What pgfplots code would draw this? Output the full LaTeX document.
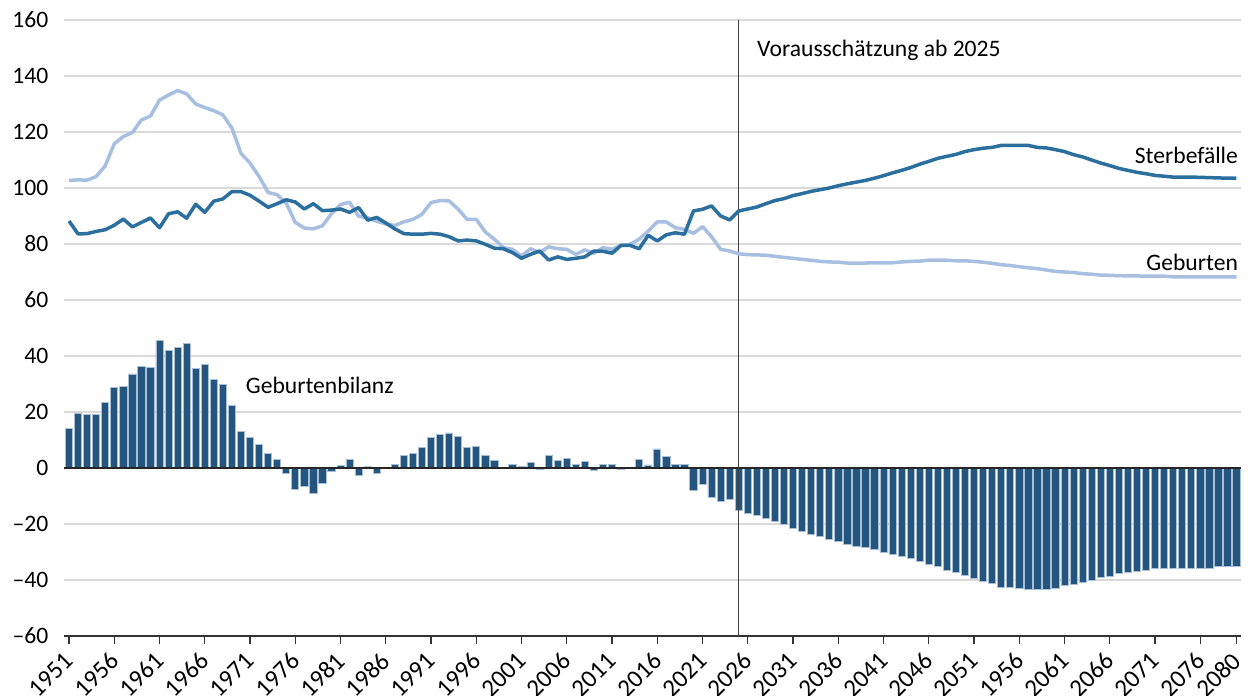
\documentclass[border=0pt]{standalone}
\usepackage{pgfplots}
\pgfplotsset{compat=1.18}
\usepackage{pgfplotstable}
\usepackage{fontspec}
\setmainfont{Carlito}

\definecolor{barfill}{HTML}{23557E}
\definecolor{baredge}{HTML}{A9BFD6}
\definecolor{deaths}{HTML}{2B6F9E}
\definecolor{births}{HTML}{A7BFE0}
\definecolor{gridc}{HTML}{D9D9D9}

% Geburten, Sterbefaelle, Geburtenbilanz (in 1000)
\pgfplotstableread{
year geb sterb bilanz
1951 102.7 88.2 14.2
1952 102.9 83.6 19.4
1953 102.8 83.7 19.2
1954 104.1 84.5 19.0
1955 107.9 85.1 23.3
1956 115.8 86.7 28.7
1957 118.4 88.9 29.2
1958 119.8 86.1 33.6
1959 124.3 87.7 36.2
1960 125.7 89.3 36.0
1961 131.4 85.8 45.6
1962 133.2 90.8 42.0
1963 134.8 91.5 43.0
1964 133.6 89.2 44.4
1965 130.0 94.2 35.4
1966 128.7 91.3 37.0
1967 127.6 95.3 31.7
1968 126.1 96.1 29.8
1969 121.4 98.7 22.4
1970 112.4 98.7 13.2
1971 108.9 97.4 10.8
1972 104.1 95.3 8.5
1973 98.4 93.1 5.1
1974 97.6 94.4 2.9
1975 94.6 95.8 -2.1
1976 87.7 95.0 -7.6
1977 85.7 92.5 -6.5
1978 85.4 94.4 -8.9
1979 86.5 91.9 -5.5
1980 90.8 92.1 -1.3
1981 94.1 92.5 0.8
1982 94.9 91.3 3.2
1983 89.9 93.0 -2.7
1984 89.4 88.5 0.5
1985 88.1 89.5 -1.9
1986 87.2 87.5 0.2
1987 86.6 85.4 1.2
1988 87.9 83.7 4.4
1989 88.8 83.5 5.1
1990 90.6 83.5 7.3
1991 94.8 83.8 10.8
1992 95.5 83.5 11.9
1993 95.4 82.6 12.5
1994 92.4 81.1 11.4
1995 88.8 81.4 7.3
1996 88.8 81.1 7.7
1997 84.3 79.9 4.4
1998 81.7 78.5 2.6
1999 78.7 78.3 0.1
2000 78.1 76.9 1.2
2001 75.7 74.9 0.5
2002 78.3 76.3 1.9
2003 76.9 77.5 -0.4
2004 79.0 74.3 4.4
2005 78.3 75.4 2.7
2006 78.1 74.5 3.3
2007 76.3 74.9 1.4
2008 77.9 75.4 2.4
2009 76.7 77.5 -1.0
2010 78.7 77.4 1.2
2011 78.1 76.7 1.4
2012 79.5 79.5 -0.4
2013 79.9 79.5 0.1
2014 81.7 78.3 3.2
2015 84.6 83.1 1.1
2016 87.9 81.1 6.8
2017 87.9 83.3 4.0
2018 85.8 84.0 1.3
2019 85.2 83.5 1.3
2020 83.8 91.8 -8.0
2021 86.2 92.4 -5.7
2022 82.6 93.6 -10.5
2023 78.1 90.0 -11.9
2024 77.5 88.6 -11.1
2025 76.5 91.8 -15.2
2026 76.2 92.5 -16.2
2027 76.1 93.2 -17.0
2028 76.0 94.4 -18.1
2029 75.6 95.5 -19.1
2030 75.2 96.2 -20.2
2031 74.9 97.3 -21.7
2032 74.5 98.0 -22.5
2033 74.2 98.8 -23.6
2034 73.8 99.4 -24.6
2035 73.6 100.0 -25.4
2036 73.5 100.8 -26.3
2037 73.2 101.5 -27.3
2038 73.2 102.1 -28.0
2039 73.2 102.7 -28.5
2040 73.3 103.5 -29.1
2041 73.3 104.4 -30.1
2042 73.3 105.4 -30.8
2043 73.6 106.3 -31.7
2044 73.8 107.3 -32.3
2045 73.9 108.5 -33.5
2046 74.2 109.5 -34.4
2047 74.2 110.6 -35.3
2048 74.2 111.3 -36.6
2049 74.0 112.0 -37.2
2050 74.0 113.0 -38.4
2051 73.8 113.7 -39.6
2052 73.5 114.2 -40.6
2053 73.1 114.5 -41.3
2054 72.6 115.2 -42.5
2055 72.3 115.2 -42.8
2056 71.9 115.2 -43.1
2057 71.5 115.2 -43.2
2058 71.2 114.5 -43.2
2059 70.7 114.3 -43.2
2060 70.2 113.7 -43.0
2061 70.0 113.0 -42.0
2062 69.8 111.9 -41.7
2063 69.4 111.1 -40.8
2064 69.2 110.0 -40.0
2065 68.9 108.9 -39.2
2066 68.8 108.0 -38.7
2067 68.7 107.0 -37.8
2068 68.6 106.3 -37.4
2069 68.6 105.6 -37.1
2070 68.5 105.1 -36.5
2071 68.5 104.5 -35.9
2072 68.5 104.2 -35.9
2073 68.3 103.9 -35.7
2074 68.3 103.9 -35.7
2075 68.3 103.9 -35.7
2076 68.3 103.8 -35.7
2077 68.3 103.7 -35.7
2078 68.3 103.6 -35.3
2079 68.3 103.5 -35.3
2080 68.2 103.5 -35.3
}\data

\begin{document}
\fontsize{11.8}{14}\selectfont
\begin{tikzpicture}
\begin{axis}[
    scale only axis,
    width=588.25pt, height=308pt,
    xmin=1950.5, xmax=2080.5,
    ymin=-60, ymax=160,
    axis x line*=bottom, axis y line*=left,
    x axis line style={draw=black!80, line width=0.7pt},
    y axis line style={draw=none},
    tick align=outside,
    major tick length=4pt,
    xtick={1951,1956,1961,1966,1971,1976,1981,1986,1991,1996,2001,2006,2011,2016,2021,2026,2031,2036,2041,2046,2051,2056,2061,2066,2071,2076,2080},
    xticklabels={1951,1956,1961,1966,1971,1976,1981,1986,1991,1996,2001,2006,2011,2016,2021,2026,2031,2036,2041,2046,2051,1956,2061,2066,2071,2076,2080},
    x tick style={draw=black!80, line width=0.6pt},
    xticklabel style={xshift=1.5pt, yshift=-5pt, rotate=45, anchor=east,
        inner sep=2pt, font=\fontsize{12.5}{14}\selectfont},
    ytick={-60,-40,-20,0,20,40,60,80,100,120,140,160},
    yticklabels={--60,--40,--20,0,20,40,60,80,100,120,140,160},
    y tick style={draw=none},
    ymajorgrids,
    grid style={draw=gridc, line width=0.7pt},
    clip=false,
]
    % Geburtenbilanz
    \addplot[ybar, bar width=0.8, fill=barfill, draw=baredge, line width=0.4pt]
        table[x=year, y=bilanz]{\data};
    % Nulllinie
    \addplot[draw=black!85, line width=0.75pt]
        coordinates {(1950.5,0) (2080.5,0)};
    % Beginn der Vorausschaetzung
    \addplot[draw=black!75, line width=0.75pt]
        coordinates {(2025,-60) (2025,160)};
    % Geburten
    \addplot[draw=births, line width=1.75pt, line join=round]
        table[x=year, y=geb]{\data};
    % Sterbefaelle
    \addplot[draw=deaths, line width=1.75pt, line join=round]
        table[x=year, y=sterb]{\data};

    \node[anchor=base west, inner sep=0] at (axis cs:2027,146.8) {Vorausschätzung ab 2025};
    \node[anchor=base east, inner sep=0] at (axis cs:2080.2,108.8) {Sterbefälle};
    \node[anchor=base east, inner sep=0] at (axis cs:2080.2,70.5) {Geburten};
    \node[anchor=base west, inner sep=0] at (axis cs:1970.5,26.7) {Geburtenbilanz};
\end{axis}
\pgfresetboundingbox
\useasboundingbox (-32.25pt,-30pt) rectangle (591.75pt,318pt);
\end{tikzpicture}
\end{document}
